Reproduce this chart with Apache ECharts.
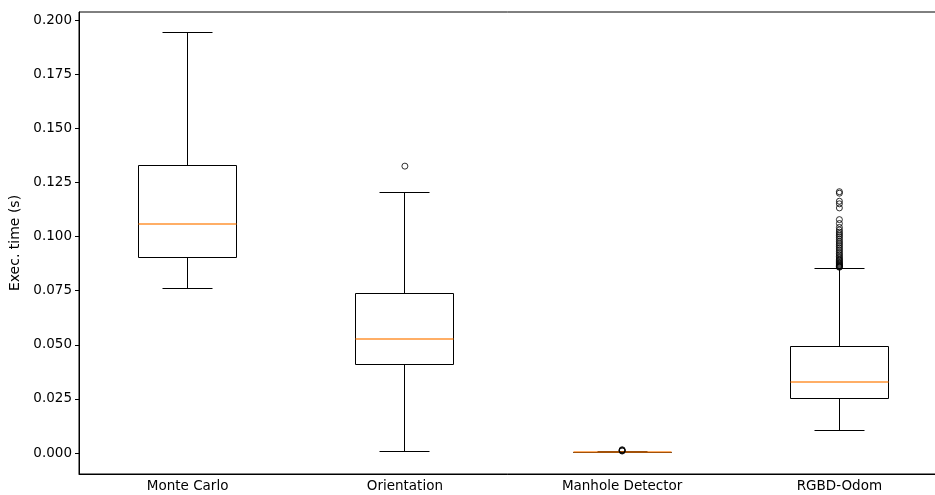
<!DOCTYPE html>
<html>
<head>
<meta charset="utf-8">
<script src="https://cdn.jsdelivr.net/npm/echarts@6/dist/echarts.min.js"></script>
<style>html,body{margin:0;padding:0;background:#fff}#c{width:935px;height:495px}</style>
</head>
<body>
<div id="c"></div>
<script>
var categories = ['Monte Carlo', 'Orientation', 'Manhole Detector', 'RGBD-Odom'];
var whiskerLow = [0.0762, 0.0007, 0.0001, 0.0106];
var q1 = [0.0901, 0.0409, 0.0002, 0.0251];
var median = [0.1060, 0.0528, 0.0003, 0.0326];
var q3 = [0.1326, 0.0736, 0.0004, 0.0493];
var whiskerHigh = [0.1941, 0.1201, 0.0007, 0.0853];
var outliersMonteCarlo = [];
var outliersOrientation = [0.1325];
var outliersManhole = [0.0009, 0.0011, 0.0013, 0.0015];
var outliersRGBD = [0.1207, 0.1200, 0.1163, 0.1151, 0.1132, 0.1078, 0.1060, 0.1042, 0.1030,
  0.1020, 0.1012, 0.1004, 0.0996, 0.0987, 0.0978, 0.0970, 0.0962, 0.0954, 0.0946, 0.0938,
  0.0930, 0.0922, 0.0915, 0.0908, 0.0901, 0.0895, 0.0890, 0.0885, 0.0880, 0.0876, 0.0872,
  0.0868, 0.0865, 0.0862, 0.0860, 0.0858];
var yTicks = [0, 0.025, 0.05, 0.075, 0.1, 0.125, 0.15, 0.175, 0.2];

var boxData = categories.map(function (c, i) {
  return [i, whiskerLow[i], q1[i], median[i], q3[i], whiskerHigh[i]];
});
var outlierGroups = [outliersMonteCarlo, outliersOrientation, outliersManhole, outliersRGBD];
var outlierData = [];
outlierGroups.forEach(function (g, i) { g.forEach(function (v) { outlierData.push([i, v]); }); });

var FONT = '"DejaVu Sans", "Liberation Sans", sans-serif';
var chart = echarts.init(document.getElementById('c'), null, {renderer: 'canvas'});

function px(v) { return Math.round(v - 0.5) + 0.5; }

chart.setOption({
  animation: false,
  backgroundColor: '#fff',
  grid: {left: 79, top: 12, width: 869, height: 462, show: true, borderColor: '#000', borderWidth: 1,
    containLabel: false, outerBoundsMode: 'none'},
  xAxis: {
    type: 'category',
    data: categories,
    boundaryGap: true,
    axisLine: {onZero: false, lineStyle: {color: '#000', width: 1}},
    axisTick: {alignWithLabel: true, length: 4, lineStyle: {color: '#000'}},
    axisLabel: {color: '#000', fontSize: 13.5, fontFamily: FONT, margin: 5},
    splitLine: {show: false}
  },
  yAxis: {
    type: 'value',
    min: -0.0097,
    max: 0.2037,
    name: 'Exec. time (s)',
    nameLocation: 'middle',
    nameGap: 53,
    nameTextStyle: {color: '#000', fontSize: 14, fontFamily: FONT},
    axisLine: {show: true, lineStyle: {color: '#000', width: 1}},
    axisTick: {show: true, length: 4, customValues: yTicks, lineStyle: {color: '#000'}},
    axisLabel: {color: '#000', fontSize: 13.5, fontFamily: FONT, margin: 7,
      customValues: yTicks,
      formatter: function (v) { return v.toFixed(3); }},
    splitLine: {show: false}
  },
  series: [{
    type: 'custom',
    data: boxData,
    encode: {x: 0, y: [1, 2, 3, 4, 5]},
    renderItem: function (params, api) {
      var i = api.value(0);
      var band = api.size([1, 0])[0];
      var bw = band * 0.451;
      var cw = band * 0.23;
      var yLow = px(api.coord([i, api.value(1)])[1]);
      var yQ1 = px(api.coord([i, api.value(2)])[1]);
      var yMed = Math.round(api.coord([i, api.value(3)])[1]);
      var yQ3 = px(api.coord([i, api.value(4)])[1]);
      var yHigh = px(api.coord([i, api.value(5)])[1]);
      var x = px(api.coord([i, api.value(3)])[0]);
      var xl = px(x - bw / 2), xr = px(x + bw / 2);
      var cl = px(x - cw / 2), cr = px(x + cw / 2);
      function ln(x1, y1, x2, y2, color, w) {
        return {type: 'line', shape: {x1: x1, y1: y1, x2: x2, y2: y2},
          style: {stroke: color || '#000', lineWidth: w || 1}};
      }
      return {type: 'group', children: [
        ln(x, yQ3, x, yHigh),
        ln(x, yQ1, x, yLow),
        ln(cl, yHigh, cr, yHigh),
        ln(cl, yLow, cr, yLow),
        {type: 'rect', shape: {x: xl, y: yQ3, width: xr - xl, height: yQ1 - yQ3},
          style: {stroke: '#000', lineWidth: 1, fill: 'rgba(0,0,0,0)'}},
        ln(xl, yMed, xr, yMed, 'rgba(255,127,14,0.85)', 1.5)
      ]};
    },
    z: 2
  }, {
    type: 'scatter',
    data: outlierData,
    symbol: 'circle',
    symbolSize: 6,
    itemStyle: {color: 'rgba(255,255,255,0)', borderColor: '#000', borderWidth: 1},
    z: 3
  }]
});
</script>
</body>
</html>
